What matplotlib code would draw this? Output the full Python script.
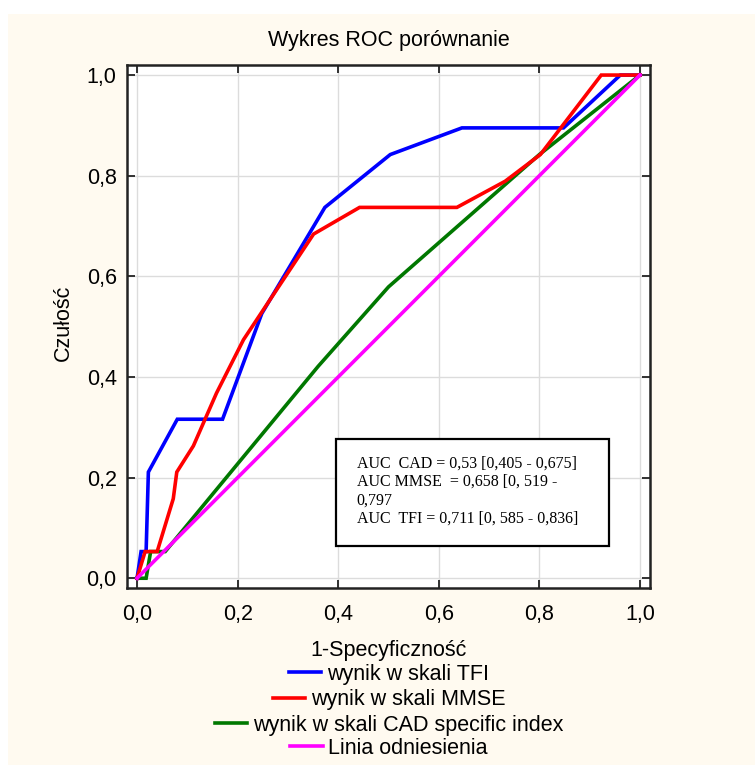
import matplotlib
matplotlib.use("Agg")
import matplotlib.pyplot as plt
from matplotlib.patches import Rectangle

plt.rcParams['font.family'] = ['Liberation Sans', 'DejaVu Sans']

# ---- data ----
tfi_x = [0.0, 0.008, 0.018, 0.0225, 0.080, 0.170, 0.248, 0.3735, 0.5035, 0.646, 0.848, 0.961, 1.0]
tfi_y = [0.0, 0.053, 0.053, 0.211, 0.316, 0.316, 0.526, 0.737, 0.842, 0.895, 0.895, 1.0, 1.0]

mmse_x = [0.0, 0.016, 0.040, 0.072, 0.079, 0.112, 0.158, 0.2116, 0.351, 0.4425, 0.636, 0.732, 0.802, 0.923, 1.0]
mmse_y = [0.0, 0.053, 0.053, 0.158, 0.211, 0.263, 0.368, 0.474, 0.684, 0.737, 0.737, 0.789, 0.842, 1.0, 1.0]

cad_x = [0.0, 0.018, 0.027, 0.056, 0.360, 0.500, 0.800, 1.0]
cad_y = [0.0, 0.0, 0.053, 0.053, 0.421, 0.579, 0.842, 1.0]

ref_x = [0.0, 1.0]
ref_y = [0.0, 1.0]

series_labels = ['wynik w skali TFI', 'wynik w skali MMSE',
                 'wynik w skali CAD specific index', 'Linia odniesienia']
series_colors = ['#0000FF', '#FF0000', '#007800', '#FF00FF']

tick_vals = [0.0, 0.2, 0.4, 0.6, 0.8, 1.0]
tick_labels = ['0,0', '0,2', '0,4', '0,6', '0,8', '1,0']

auc_text = ("AUC  CAD = 0,53 [0,405 - 0,675]\n"
            "AUC MMSE  = 0,658 [0, 519 -\n"
            "0,797\n"
            "AUC  TFI = 0,711 [0, 585 - 0,836]")

FS = 15.5
W, H = 755, 765
fig = plt.figure(figsize=(W / 100, H / 100), dpi=100)
fig.patch.set_facecolor('white')
fig.patches.append(Rectangle((8 / W, 0), 1 - 8 / W, 1 - 14 / H, transform=fig.transFigure,
                             facecolor='#FFFAF0', edgecolor='none', zorder=-10))

ax = fig.add_axes([127 / W, 1 - 588.3 / H, 523 / W, (588.3 - 65) / H])
ax.set_facecolor('white')

zorders = [3, 4, 2, 5]
lines = []
for (xs, ys), lab, col, z in zip([(tfi_x, tfi_y), (mmse_x, mmse_y), (cad_x, cad_y), (ref_x, ref_y)],
                                 series_labels, series_colors, zorders):
    ln, = ax.plot(xs, ys, color=col, lw=2.6, label=lab, zorder=z, solid_joinstyle='miter')
    lines.append(ln)

ax.set_xlim(-0.02, 1.02)
ax.set_ylim(-0.02, 1.02)
ax.set_xticks(tick_vals)
ax.set_xticklabels(tick_labels)
ax.set_yticks(tick_vals)
ax.set_yticklabels(tick_labels)
ax.tick_params(axis='both', direction='in', length=6, width=1.3, labelsize=FS,
               top=True, right=True, color='#222222')
ax.tick_params(axis='x', pad=11.5)
ax.tick_params(axis='y', pad=7.4)
ax.grid(True, color='#DCDCDC', lw=1.0, zorder=0)
ax.set_axisbelow(True)
for sp in ax.spines.values():
    sp.set_linewidth(1.8)
    sp.set_color('#222222')

# AUC box
box = Rectangle((0.396, 0.0645), 0.543, 0.2125, facecolor='white', edgecolor='black',
                lw=1.6, zorder=6)
ax.add_patch(box)
ax.text(0.437, 0.244, auc_text, family=['Liberation Serif', 'DejaVu Serif'], fontsize=11.5,
        va='top', ha='left', zorder=7, linespacing=1.2)

# titles and labels
fig.text(389 / W, 1 - 46 / H, 'Wykres ROC porównanie', ha='center', va='baseline', fontsize=FS)
fig.text(389 / W, 1 - 656 / H, '1-Specyficzność', ha='center', va='baseline', fontsize=FS)
fig.text(63.5 / W, 1 - 322.5 / H, 'Czułość', ha='center', va='center', rotation=90, fontsize=FS)

# legend rows, each centered
row_y = [674.3, 700, 725, 748.5]
for ln, lab, y in zip(lines, series_labels, row_y):
    fig.legend(handles=[ln], labels=[lab], loc='center', bbox_to_anchor=(389 / W, 1 - y / H),
               frameon=False, fontsize=FS, handlelength=1.5, handletextpad=0.25,
               borderpad=0, borderaxespad=0)

fig.savefig('out.png', dpi=100, facecolor=fig.get_facecolor())
